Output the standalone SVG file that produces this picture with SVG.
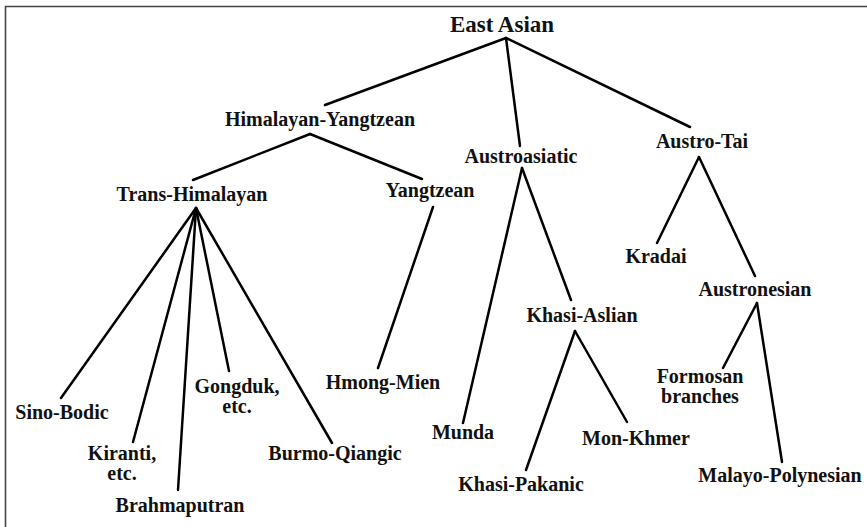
<svg xmlns="http://www.w3.org/2000/svg" width="867" height="527" viewBox="0 0 867 527">
<style>
text{font-family:"Liberation Serif","Times New Roman",serif;font-weight:bold;font-size:20px;fill:#111;text-anchor:middle}
.c line{stroke:#000;stroke-width:2.5;stroke-linecap:round}
.frame{stroke:#444;stroke-width:1.6;fill:none}
</style>
<rect width="867" height="527" fill="#fff"/>
<path class="frame" d="M5.5 527 V6.5 H867"/>
<g class="c" id="connectors">
<line x1="506" y1="38" x2="325" y2="105"/>
<line x1="506" y1="38" x2="520" y2="146"/>
<line x1="506" y1="38" x2="690" y2="127"/>
<line x1="310" y1="134" x2="193" y2="180"/>
<line x1="310" y1="134" x2="422" y2="179"/>
<line x1="196" y1="208" x2="61" y2="398"/>
<line x1="196" y1="208" x2="133" y2="442"/>
<line x1="196" y1="208" x2="178" y2="490"/>
<line x1="196" y1="208" x2="229" y2="371"/>
<line x1="196" y1="208" x2="332" y2="443"/>
<line x1="433" y1="207" x2="378" y2="368"/>
<line x1="522" y1="168" x2="463" y2="423"/>
<line x1="522" y1="168" x2="571" y2="300"/>
<line x1="575" y1="331" x2="526" y2="470"/>
<line x1="575" y1="331" x2="627" y2="422"/>
<line x1="699" y1="157" x2="657" y2="243"/>
<line x1="699" y1="157" x2="755" y2="276"/>
<line x1="757" y1="303" x2="723" y2="368"/>
<line x1="757" y1="303" x2="782" y2="462"/>
</g>
<g id="east-asian"><text x="502" y="32" style="font-size:23px">East Asian</text></g>
<g id="himalayan-yangtzean"><text x="320" y="126">Himalayan-Yangtzean</text></g>
<g id="austroasiatic"><text x="521" y="163">Austroasiatic</text></g>
<g id="austro-tai"><text x="702" y="148">Austro-Tai</text></g>
<g id="trans-himalayan"><text x="192" y="201">Trans-Himalayan</text></g>
<g id="yangtzean"><text x="430" y="197">Yangtzean</text></g>
<g id="sino-bodic"><text x="62" y="419">Sino-Bodic</text></g>
<g id="kiranti"><text x="122" y="460">Kiranti,</text><text x="122" y="480">etc.</text></g>
<g id="brahmaputran"><text x="180" y="512">Brahmaputran</text></g>
<g id="gongduk"><text x="237" y="393">Gongduk,</text><text x="237" y="413">etc.</text></g>
<g id="burmo-qiangic"><text x="335" y="460">Burmo-Qiangic</text></g>
<g id="hmong-mien"><text x="383" y="389">Hmong-Mien</text></g>
<g id="munda"><text x="463" y="439">Munda</text></g>
<g id="khasi-aslian"><text x="582" y="322">Khasi-Aslian</text></g>
<g id="khasi-pakanic"><text x="521" y="491">Khasi-Pakanic</text></g>
<g id="mon-khmer"><text x="636" y="445">Mon-Khmer</text></g>
<g id="kradai"><text x="656" y="263">Kradai</text></g>
<g id="austronesian"><text x="755" y="296">Austronesian</text></g>
<g id="formosan"><text x="700" y="383">Formosan</text><text x="700" y="403">branches</text></g>
<g id="malayo-polynesian"><text x="780" y="482">Malayo-Polynesian</text></g>
</svg>
